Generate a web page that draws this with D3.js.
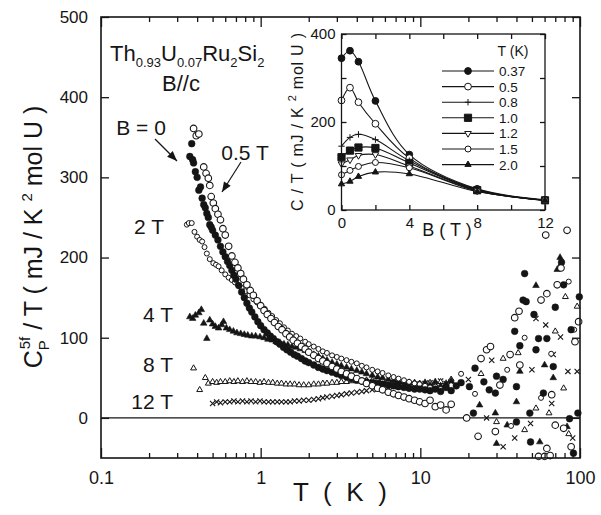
<!DOCTYPE html>
<html><head><meta charset="utf-8">
<script src="https://cdn.jsdelivr.net/npm/d3@7"></script>
<style>
body{margin:0;background:#fff}
svg{display:block}
text{font-family:"Liberation Sans",Arial,Helvetica,sans-serif;fill:#151515}
</style>
</head><body>
<svg id="chart" width="601" height="515"></svg>
<script>
// ---------------- DATA ----------------
// Main plot: C_P^5f/T (mJ/K^2 mol U) vs T (K) for several fields
const T_B0 = [0.36,0.37,0.375,0.38,0.39,0.40,0.41,0.42,0.43,0.44,0.45,0.46,0.47,0.48,0.49,0.50,0.52,0.54,0.56,0.58,0.60,0.62,0.64,0.66,0.68,0.70,0.73,0.76,0.79,0.82,0.85,0.88,0.92,0.96,1.0,1.05,1.1,1.15,1.2,1.26,1.32,1.39,1.46,1.54,1.62,1.7,1.8,1.9,2.0,2.15,2.3,2.45,2.6,2.8,3.0,3.2,3.45,3.7,4.0,4.3,4.6,5.0,5.4,5.8,6.3,6.8,7.3,7.9,8.5,9.2,9.9,10.7,11.5,12.4,13.4,14.5,15.6,16.8,
  18,20.3,21.5,22,25,27,29.5,30,33,39,40,40,42,44,46,45,48.5,49,51.5,53,55,59,62,68,70,76.6,79,86,88,91,97,99];
const C_B0 = [326,342,322,318,307,300,284,288,274,266,262,255,250,241,238,234,228,222,214,207,201,195,190,184,178,173,165,157,150,143,137,132,126,120,115,110,106,102,99,95,92,88,85,82,79,77,74,71,69,66,63,61,59,57,55,53,51,49,47,46,45,44,43,42,41,40,39,38,37,36,36,35,34,36,33,38,34,40,
  44,39,6,62,45,35,31,52,48,108,39,-5,90,147,145,180,6,-30,129,85,99,31,99,64,138,194,166,-1,110,-44,6,151];

const T_B05 = [0.38,0.395,0.41,0.44,0.455,0.47,0.48,0.49,0.505,0.52,0.54,0.56,0.58,0.60,0.63,0.66,0.69,0.72,0.75,0.78,0.82,0.86,0.9,0.95,1.0,1.05,1.1,1.16,1.22,1.29,1.36,1.44,1.52,1.6,1.7,1.8,1.9,2.0,2.15,2.3,2.45,2.6,2.8,3.0,3.2,3.45,3.7,4.0,4.3,4.6,5.0,5.4,5.8,6.3,6.8,7.3,7.9,8.5,9.2,9.9,10.7,11.5,12.4,13.4,14.5,15.6,
  19.5,23,24,26,27.5,29.5,31.5,36.5,39,41.5,42,55,57,60,61,62,62,65,66.5,70,72,76,79,83,88,93,98];
const C_B05 = [361,352,354,313,305,299,290,276,268,261,254,247,236,228,214,202,194,187,180,173,166,159,153,146,140,134,129,124,119,114,110,105,101,97,93,89,86,82,78,74,71,68,64,61,58,55,52,49,46,43,40,37,35,32,30,28,26,24,22,20,18,22,14,16,10,17,
  0,-23,74,85,89,-17,41,79,125,133,66,-48,147,-48,228,155,-38,-47,29,-9,166,187,-13,234,-36,95,120];

const T_B2 = [0.345,0.355,0.37,0.385,0.40,0.415,0.43,0.445,0.46,0.48,0.505,0.525,0.545,0.57,0.6,0.63,0.66,0.69,0.72,0.76,0.8,0.85,0.9,0.95,1.0,1.06,1.12,1.18,1.25,1.32,1.4,1.48,1.57,1.67,1.77,1.9,2.0,2.15,2.3,2.45,2.6,2.8,3.0,3.2,3.45,3.7,4.0,4.3,4.6,5.0,5.4,5.8,6.3,6.8,7.3,7.9,8.5,9.2,9.9,10.7,11.5,12.4,13.4,14.5,15.6,
  18,22,35,37,45,57,66,85,92];
const C_B2 = [241,243,243,232,226,222,220,213,205,198,193,191,189,184,179,175,172,169,166,162,158,153,148,144,140,136,131,127,122,118,113,109,105,102,99,95,92,89,86,83,81,78,76,74,72,70,68,65,63,60,58,56,53,51,49,47,45,43,42,40,38,39,36,38,34,
  55,30,60,-10,100,25,80,170,110];

const T_B4 = [0.36,0.375,0.39,0.41,0.425,0.44,0.46,0.48,0.5,0.52,0.545,0.57,0.585,0.61,0.64,0.675,0.71,0.75,0.79,0.83,0.88,0.93,0.99,1.05,1.11,1.18,1.25,1.32,1.4,1.48,1.57,1.67,1.77,1.9,2.0,2.15,2.3,2.45,2.6,2.8,3.0,3.2,3.45,3.7,4.0,4.3,4.6,5.0,5.4,5.8,6.3,6.8,7.3,7.9,8.5,9.2,9.9,10.7,11.5,12.4,13.4,14.5,15.6,
  23.5,29.5,30,35,40,42,53,56,60,68,72,75,83];
const C_B4 = [126,124,128,131,135,118,99,122,117,114,112,116,120,112,110,108,106,105,104,103,102,102,101,100,98,97,95,94,92,91,89,88,86,84,82,79,77,74,72,69,67,65,63,61,59,57,55,53,51,50,48,47,46,45,44,43,42,44,41,45,40,43,46,
  16,6,-32,-9,20,58,165,-30,66,50,185,200,-11];

const T_B8 = [0.38,0.415,0.45,0.47,0.5,0.53,0.56,0.6,0.64,0.68,0.72,0.77,0.82,0.87,0.93,0.99,1.05,1.12,1.19,1.27,1.35,1.44,1.53,1.63,1.74,1.86,2.0,2.15,2.3,2.45,2.6,2.8,3.0,3.2,3.45,3.7,4.0,4.3,4.6,5.0,5.4,5.8,6.3,6.8,7.3,7.9,8.5,9.2,9.9,10.7,11.5,12.4,13.4,14.5,15.6,
  24,30,33,41,45,53,64,70,75,79,81,85,96];
const C_B8 = [62,35,50,43,45,44,45,45,46,45,46,45,46,45,45,44,45,44,44,43,43,42,42,42,41,41,41,42,42,43,43,44,44,45,45,46,46,46,47,47,47,47,46,46,45,45,44,44,43,42,44,41,45,40,48,
  55,-5,74,81,-15,12,6,108,190,37,151,-20,139];

const T_B12 = [0.5,0.53,0.56,0.6,0.64,0.68,0.72,0.77,0.82,0.87,0.93,0.99,1.05,1.12,1.19,1.27,1.35,1.44,1.53,1.63,1.74,1.86,2.0,2.15,2.3,2.45,2.6,2.8,3.0,3.2,3.45,3.7,4.0,4.3,4.6,5.0,5.4,5.8,6.3,6.8,7.3,7.9,8.5,9.2,9.9,10.7,11.5,12.4,13.4,14.5,15.6,
  20,26,28,33,39,49,50,53,61,66.5,68,75.5,84,90,96];
const C_B12 = [18,20,19,20,20,21,20,21,20,21,20,21,20,20,20,20,20,20,20,21,21,22,22,23,24,25,26,27,28,29,30,31,32,33,34,35,36,37,38,39,40,40,41,42,42,43,44,42,46,43,45,
  48,0,72,-36,-25,-7,60,124,116,18,79,101,58,-25,58];

// Main axes ticks
const mainYTicks = [0,100,200,300,400,500];
const mainXLabels = [0.1,1,10,100];

// Inset: C/T vs B at fixed temperatures
const insetB = [0,0.5,1,2,4,8,12];
const insetTemps = ["0.37","0.5","0.8","1.0","1.2","1.5","2.0"];
const inset_037 = [345,362,337,248,126,48,23];
const inset_05  = [249,278,245,196,118,47,22];
const inset_08  = [145,165,172,160,112,46,22];
const inset_10  = [120,135,142,141,107,45,22];
const inset_12  = [105,114,124,126,100,44,22];
const inset_15  = [80,90,99,108,96,43,22];
const inset_20  = [59,65,76,86,82,42,22];
const insetXTicks = [0,2,4,6,8,10,12];
const insetYTicks = [0,100,200,300,400];

// ---------------- DRAWING ----------------
const svg = d3.select("#chart");
const INK = "#151515";

const x = d3.scaleLog().domain([0.1,100]).range([101,580]);
const y = d3.scaleLinear().domain([-50,500]).range([458,17]);

function shape(type, r){
  switch(type){
    case "circle": return d3.symbol().type(d3.symbolCircle).size(Math.PI*r*r)();
    case "tri": return `M0,${-r}L${r*0.866},${r*0.5}L${-r*0.866},${r*0.5}Z`;
    case "tridown": return `M0,${r}L${r*0.866},${-r*0.5}L${-r*0.866},${-r*0.5}Z`;
    case "square": return `M${-r},${-r}h${2*r}v${2*r}h${-2*r}Z`;
    case "x": return `M${-r},${-r}L${r},${r}M${-r},${r}L${r},${-r}`;
    case "plus": return `M${-r},0H${r}M0,${-r}V${r}`;
  }
}
function drawMarker(g, type, r, filled, sw){
  return g.append("path").attr("d", shape(type,r))
    .attr("fill", filled ? INK : (type==="x"||type==="plus" ? "none" : "#fff"))
    .attr("stroke", INK).attr("stroke-width", sw);
}

// zero line
svg.append("line").attr("x1",x(0.1)).attr("x2",x(100)).attr("y1",y(0)).attr("y2",y(0))
  .attr("stroke",INK).attr("stroke-width",1.3);

// main series
const mainSeries = [
  {T:T_B12, C:C_B12, type:"x", r:2.6, filled:false, sw:1.1},
  {T:T_B8,  C:C_B8,  type:"tri", r:3.4, filled:false, sw:1.0},
  {T:T_B4,  C:C_B4,  type:"tri", r:3.8, filled:true, sw:0.6},
  {T:T_B2,  C:C_B2,  type:"circle", r:2.5, filled:false, sw:1.0},
  {T:T_B0,  C:C_B0,  type:"circle", r:3.4, filled:true, sw:0.5},
  {T:T_B05, C:C_B05, type:"circle", r:3.3, filled:false, sw:1.1},
];
const gData = svg.append("g");
mainSeries.forEach(s=>{
  s.T.forEach((t,i)=>{
    const m = drawMarker(gData, s.type, s.r, s.filled, s.sw);
    m.attr("transform",`translate(${x(t)},${y(s.C[i])})`);
  });
});

// frame
svg.append("rect").attr("x",101).attr("y",17).attr("width",479).attr("height",441)
  .attr("fill","none").attr("stroke",INK).attr("stroke-width",1.6);

// log ticks
const allLog = [];
[0.1,1,10].forEach(d=>{ for(let k=1;k<=9;k++) allLog.push(d*k); });
allLog.push(100);
const majorLog = [0.1,1,10,100];
const minorLog = allLog.filter(v=>!majorLog.some(m=>Math.abs(m-v)<1e-9));

function styleAxis(g, fs){
  g.select(".domain").remove();
  g.selectAll("line").attr("stroke",INK).attr("stroke-width",1.3);
  g.selectAll("text").attr("font-size",fs).attr("fill",INK)
    .attr("font-family","'Liberation Sans',Arial,sans-serif");
}
// bottom
styleAxis(svg.append("g").attr("transform","translate(0,458)")
  .call(d3.axisBottom(x).tickValues(minorLog).tickSize(-5).tickFormat("")), 0);
styleAxis(svg.append("g").attr("transform","translate(0,458)")
  .call(d3.axisBottom(x).tickValues(mainXLabels).tickSize(-10).tickPadding(13).tickFormat(d=>String(d))), 18);
// top
styleAxis(svg.append("g").attr("transform","translate(0,17)")
  .call(d3.axisTop(x).tickValues(minorLog).tickSize(-5).tickFormat("")), 0);
styleAxis(svg.append("g").attr("transform","translate(0,17)")
  .call(d3.axisTop(x).tickValues(mainXLabels).tickSize(-10).tickFormat("")), 0);
// left / right
styleAxis(svg.append("g").attr("transform","translate(101,0)")
  .call(d3.axisLeft(y).tickValues(mainYTicks).tickSize(-8).tickPadding(13).tickFormat(d=>String(d))), 17);
styleAxis(svg.append("g").attr("transform","translate(580,0)")
  .call(d3.axisRight(y).tickValues(mainYTicks).tickSize(-8).tickFormat("")), 0);

// axis titles
svg.append("text").attr("x",340).attr("y",501).attr("text-anchor","middle")
  .attr("font-size",26).attr("textLength",94).attr("lengthAdjust","spacing").text("T ( K )");

const yl = svg.append("text").attr("transform","translate(42,237) rotate(-90)")
  .attr("text-anchor","middle").attr("font-size",25);
yl.append("tspan").text("C");
yl.append("tspan").attr("font-size",15).attr("dy",7).text("P");
yl.append("tspan").attr("font-size",15).attr("dx",-9).attr("dy",-19).text("5f");
yl.append("tspan").attr("dy",12).text(" / T ( mJ / K ");
yl.append("tspan").attr("font-size",15).attr("dy",-10).text("2");
yl.append("tspan").attr("dy",10).text(" mol U )");

// formula + B//c
const f = svg.append("text").attr("x",110).attr("y",61).attr("font-size",22);
f.append("tspan").text("Th");
f.append("tspan").attr("font-size",13).attr("dy",6).text("0.93");
f.append("tspan").attr("dy",-6).text("U");
f.append("tspan").attr("font-size",13).attr("dy",6).text("0.07");
f.append("tspan").attr("dy",-6).text("Ru");
f.append("tspan").attr("font-size",13).attr("dy",6).text("2");
f.append("tspan").attr("dy",-6).text("Si");
f.append("tspan").attr("font-size",13).attr("dy",6).text("2");
svg.append("text").attr("x",181).attr("y",91).attr("text-anchor","middle").attr("font-size",22).text("B//c");

// field labels
const fieldLabels = [
  {t:"B = 0", x:141, y:135, anchor:"middle"},
  {t:"0.5 T", x:245, y:160, anchor:"middle"},
  {t:"2 T", x:164, y:234, anchor:"end"},
  {t:"4 T", x:173, y:322, anchor:"end"},
  {t:"8 T", x:173, y:372, anchor:"end"},
  {t:"12 T", x:173, y:409, anchor:"end"},
];
fieldLabels.forEach(l=>svg.append("text").attr("x",l.x).attr("y",l.y)
  .attr("text-anchor",l.anchor).attr("font-size",21).text(l.t));

function arrow(x1,y1,x2,y2){
  svg.append("line").attr("x1",x1).attr("y1",y1).attr("x2",x2).attr("y2",y2)
    .attr("stroke",INK).attr("stroke-width",1.2);
  const a = Math.atan2(y2-y1,x2-x1), L=10, W=4;
  const bx = x2 - L*Math.cos(a), by = y2 - L*Math.sin(a);
  const px = -Math.sin(a)*W, py = Math.cos(a)*W;
  svg.append("path").attr("d",`M${x2},${y2}L${bx+px},${by+py}L${bx-px},${by-py}Z`).attr("fill",INK);
}
arrow(155,139,177,161);
arrow(241,162,222,192);

// ---------------- INSET ----------------
const xi = d3.scaleLinear().domain([0,12]).range([341.5,545]);
const yi = d3.scaleLinear().domain([0,400]).range([210,34]);
svg.append("rect").attr("x",341.5).attr("y",34).attr("width",203.5).attr("height",176).attr("fill","#fff");

const insetSeries = [
  {v:inset_037, type:"circle", r:3.4, filled:true},
  {v:inset_05,  type:"circle", r:3.4, filled:false},
  {v:inset_08,  type:"plus",   r:3.2, filled:false},
  {v:inset_10,  type:"square", r:3.6, filled:true},
  {v:inset_12,  type:"tridown",r:3.8, filled:false},
  {v:inset_15,  type:"circle", r:3.0, filled:false},
  {v:inset_20,  type:"tri",    r:3.6, filled:true},
];
const lineI = d3.line().x((d,i)=>xi(insetB[i])).y(d=>yi(d)).curve(d3.curveCatmullRom.alpha(0.5));
const gI = svg.append("g");
insetSeries.slice().reverse().forEach(s=>{
  gI.append("path").attr("d",lineI(s.v)).attr("fill","none").attr("stroke",INK).attr("stroke-width",1.1);
});
insetSeries.forEach(s=>{
  s.v.forEach((v,i)=>{
    drawMarker(gI, s.type, s.r, s.filled, 1).attr("transform",`translate(${xi(insetB[i])},${yi(v)})`);
  });
});

svg.append("rect").attr("x",341.5).attr("y",34).attr("width",203.5).attr("height",176)
  .attr("fill","none").attr("stroke",INK).attr("stroke-width",1.3);

styleAxis(svg.append("g").attr("transform","translate(0,210)")
  .call(d3.axisBottom(xi).tickValues(insetXTicks).tickSize(-5).tickPadding(7).tickFormat(d=>d%4===0?String(d):"")), 15);
styleAxis(svg.append("g").attr("transform","translate(0,34)")
  .call(d3.axisTop(xi).tickValues(insetXTicks).tickSize(-5).tickFormat("")), 0);
styleAxis(svg.append("g").attr("transform","translate(341.5,0)")
  .call(d3.axisLeft(yi).tickValues(insetYTicks).tickSize(-5).tickPadding(6).tickFormat(d=>d%200===0?String(d):"")), 15);
styleAxis(svg.append("g").attr("transform","translate(545,0)")
  .call(d3.axisRight(yi).tickValues(insetYTicks).tickSize(-5).tickFormat("")), 0);

svg.append("text").attr("x",447).attr("y",236).attr("text-anchor","middle").attr("font-size",18).text("B ( T )");
const yil = svg.append("text").attr("transform","translate(303,122) rotate(-90)")
  .attr("text-anchor","middle").attr("font-size",16).attr("textLength",178).attr("lengthAdjust","spacing");
yil.append("tspan").text("C / T ( mJ / K ");
yil.append("tspan").attr("font-size",11).attr("dy",-7).text("2");
yil.append("tspan").attr("dy",7).text(" mol U )");

// legend
svg.append("text").attr("x",513).attr("y",56).attr("text-anchor","middle").attr("font-size",14).text("T (K)");
insetSeries.forEach((s,i)=>{
  const yy = 71 + i*15.6;
  svg.append("line").attr("x1",442).attr("x2",494).attr("y1",yy).attr("y2",yy).attr("stroke",INK).attr("stroke-width",1.1);
  drawMarker(svg, s.type, s.r, s.filled, 1).attr("transform",`translate(468,${yy})`);
  svg.append("text").attr("x",499).attr("y",yy+5).attr("font-size",13.5).text(insetTemps[i]);
});
</script>
</body></html>
